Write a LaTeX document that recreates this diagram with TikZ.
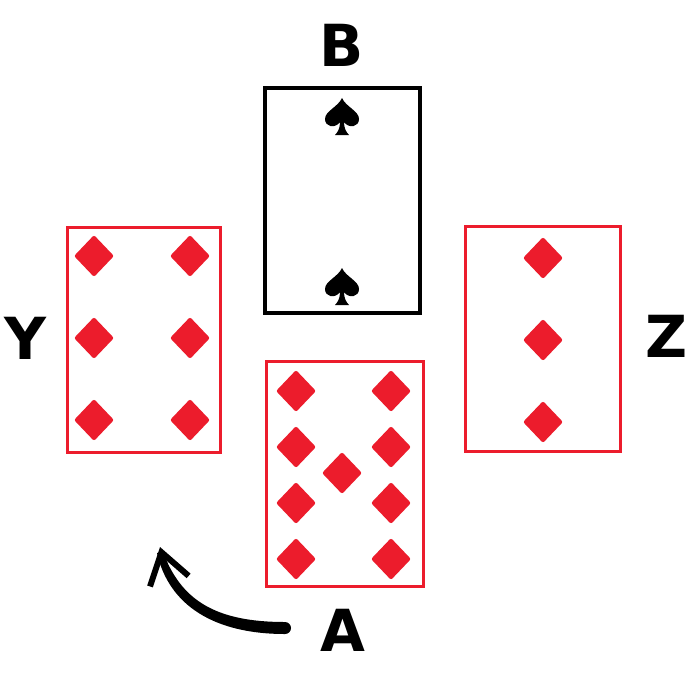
\documentclass[tikz,border=0pt]{standalone}
\usepackage{fontspec}
\setmainfont{DejaVu Sans}
\usetikzlibrary{shapes.geometric,arrows.meta}
\definecolor{cardred}{RGB}{236,28,44}
\tikzset{
  card/.style={draw, line width=3pt, minimum width=155pt, minimum height=225pt, inner sep=0pt, fill=white},
  redcard/.style={card, draw=cardred},
  blackcard/.style={card, draw=black, line width=3.5pt},
  pip/.style={diamond, fill=cardred, minimum width=40pt, minimum height=42pt, inner sep=0pt, rounded corners=2pt},
  lbl/.style={font=\fontsize{58}{60}\selectfont\bfseries, inner sep=0pt, text=black},
  spade/.pic={
    \fill[black] (0,-19) .. controls (4,-10) and (17,-6) .. (17,2)
      .. controls (17,10) and (7,12) .. (2,5)
      .. controls (2,11) and (4,15) .. (7,18) -- (-7,18)
      .. controls (-4,15) and (-2,11) .. (-2,5)
      .. controls (-7,12) and (-17,10) .. (-17,2)
      .. controls (-17,-6) and (-4,-10) .. (0,-19) -- cycle;
  }
}
\begin{document}
\begin{tikzpicture}[x=1pt,y=-1pt]
\useasboundingbox (0,0) rectangle (700,698);
\fill[white] (0,0) rectangle (700,698);
% cards
\node[blackcard] (cardB) at (342.5,200.5) {};
\node[redcard, minimum width=153pt] (cardY) at (143.5,339.5) {};
\node[redcard] (cardZ) at (542.5,339) {};
\node[redcard, minimum width=157pt] (cardA) at (344.5,474) {};
% spades on B
\pic at (342,117) {spade};
\pic at (342,287) {spade};
% pips on Y
\node[pip] (y1) at (94,256) {};
\node[pip] (y2) at (190,256) {};
\node[pip] (y3) at (94,338) {};
\node[pip] (y4) at (190,338) {};
\node[pip] (y5) at (94,420) {};
\node[pip] (y6) at (190,420) {};
% pips on Z
\node[pip] (z1) at (543,258) {};
\node[pip] (z2) at (543,340) {};
\node[pip] (z3) at (543,422) {};
% pips on A
\node[pip] (a1) at (296,391) {};
\node[pip] (a2) at (391,391) {};
\node[pip] (a3) at (296,447) {};
\node[pip] (a4) at (391,447) {};
\node[pip] (a5) at (342,473) {};
\node[pip] (a6) at (296,503) {};
\node[pip] (a7) at (391,503) {};
\node[pip] (a8) at (296,559) {};
\node[pip] (a9) at (391,559) {};
% labels
\node[lbl] (labB) at (342,45) {B};
\node[lbl] (labY) at (25,338) {Y};
\node[lbl] (labZ) at (667,336) {Z};
\node[lbl] (labA) at (343,630) {A};
% arrow
\coordinate (tail) at ([xshift=-37pt]labA.west);
\coordinate (tip) at (160,547);
\fill[black] (285,622) .. controls (215,622) and (181,600) .. (163,552)
  -- (157,553) .. controls (169,606) and (215,634) .. (285,634)
  arc[start angle=-90, end angle=90, radius=6pt] -- cycle;
\draw[line width=5pt, line cap=round, -{Straight Barb[length=30pt,width=40pt,line width=6pt]}]
  (tail) .. controls (215,628) and (175,602) .. (tip);
\end{tikzpicture}
\end{document}
